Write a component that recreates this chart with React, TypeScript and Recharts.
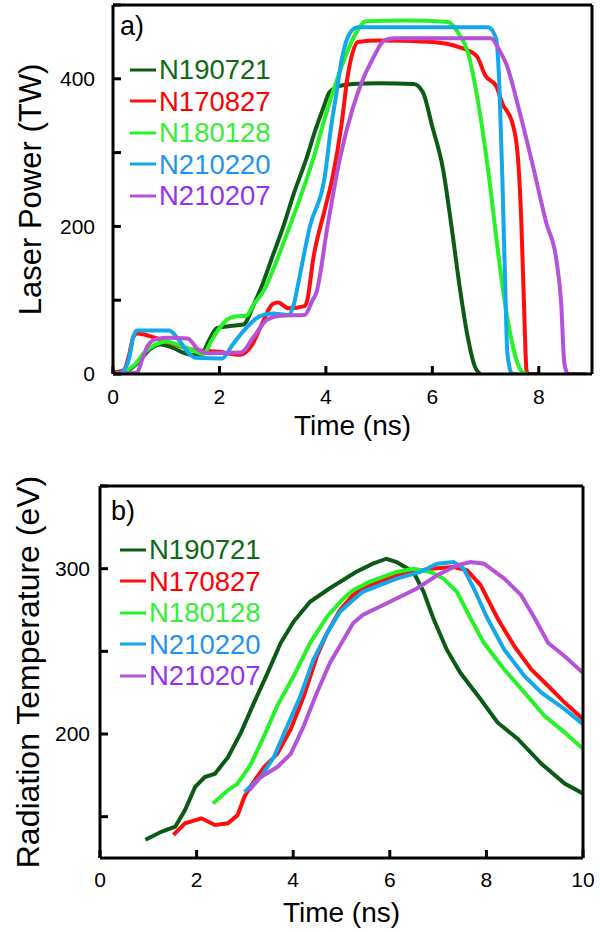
import { LineChart, Line, XAxis, YAxis, Legend } from "recharts";

const FONT = "'Liberation Sans', Arial, Helvetica, sans-serif";

// shot names, in legend order
const shots = ["N190721", "N170827", "N180128", "N210220", "N210207"];
const lineColors = ["#0c5b14", "#ff0d0d", "#27f227", "#12a8ea", "#b452d8"];
const textColors = ["#0e6a15", "#ff0000", "#36ee36", "#1f92f5", "#9630f5"];

// (a) laser power [time ns, power TW]
const laser190721 = [
  [0, 2], [0.3, 6], [0.5, 18], [0.7, 34], [0.9, 40], [1.1, 36], [1.4, 27], [1.65, 25],
  [1.8, 45], [1.95, 62], [2.2, 65], [2.45, 67], [2.65, 95], [2.8, 120], [3.0, 160],
  [3.2, 200], [3.4, 245], [3.63, 291], [3.8, 330], [3.95, 360], [4.07, 382], [4.25, 390],
  [4.5, 393], [5.0, 394], [5.65, 393], [5.82, 382], [6.0, 335], [6.2, 278], [6.36, 200],
  [6.51, 120], [6.66, 52], [6.8, 10], [6.9, 0],
];
const laser170827 = [
  [0, 2], [0.2, 5], [0.3, 25], [0.38, 50], [0.45, 55], [0.8, 49], [1.15, 40], [1.5, 33],
  [2.0, 30], [2.4, 26], [2.6, 38], [2.8, 68], [3.0, 95], [3.1, 97], [3.3, 89], [3.6, 92],
  [3.65, 100], [3.76, 155], [3.98, 223], [4.13, 268], [4.29, 336], [4.41, 404], [4.5, 435],
  [4.6, 450], [5.0, 452], [6.0, 450], [6.5, 443], [6.83, 431], [7.0, 404], [7.2, 390],
  [7.32, 366], [7.5, 341], [7.6, 300], [7.67, 210], [7.72, 100], [7.77, 5], [7.8, 0], [8.0, 0],
];
const laser180128 = [
  [0, 0], [0.2, 3], [0.4, 12], [0.6, 30], [0.8, 40], [1.0, 44], [1.2, 40], [1.5, 32],
  [1.7, 27], [1.85, 45], [2.0, 62], [2.15, 74], [2.3, 78], [2.5, 79], [2.65, 95],
  [2.85, 115], [3.0, 140], [3.32, 200], [3.76, 291], [4.03, 359], [4.35, 427], [4.55, 460],
  [4.76, 478], [5.5, 479], [6.3, 477], [6.45, 466], [6.7, 427], [6.89, 355], [7.07, 264],
  [7.2, 186], [7.32, 118], [7.45, 60], [7.58, 19], [7.7, 2], [7.8, 0],
];
const laser210220 = [
  [0, 0], [0.15, 2], [0.3, 20], [0.38, 50], [0.45, 59], [1.05, 59], [1.25, 45], [1.4, 30],
  [1.55, 22], [2.05, 21], [2.25, 40], [2.5, 62], [2.75, 78], [3.0, 82], [3.3, 80],
  [3.4, 95], [3.5, 130], [3.7, 200], [3.98, 268], [4.1, 336], [4.2, 381], [4.3, 427],
  [4.45, 462], [4.6, 470], [7.05, 470], [7.2, 454], [7.26, 390], [7.32, 254], [7.37, 118],
  [7.41, 28], [7.5, 0], [7.6, 0],
];
const laser210207 = [
  [0, 0], [0.45, 2], [0.55, 20], [0.65, 38], [0.8, 47], [1.0, 49], [1.4, 48], [1.6, 33],
  [1.8, 28], [2.4, 29], [2.65, 51], [2.9, 74], [3.15, 79], [3.6, 80], [3.75, 100],
  [3.82, 110], [4.03, 200], [4.26, 291], [4.5, 359], [4.7, 400], [4.88, 427], [5.1, 452],
  [5.3, 455], [7.1, 455], [7.25, 440], [7.39, 420], [7.64, 355], [7.89, 282], [8.14, 205],
  [8.33, 155], [8.42, 97], [8.48, 15], [8.55, 0], [8.9, 0],
];

// (b) radiation temperature [time ns, Tr eV]
const temp190721 = [
  [0.94, 136], [1.28, 141], [1.56, 144], [1.76, 154], [1.97, 168], [2.17, 174], [2.38, 176],
  [2.65, 186], [2.92, 201], [3.19, 219], [3.47, 237], [3.74, 255], [4.01, 268], [4.35, 280],
  [4.75, 288], [5.3, 298], [5.65, 303], [5.93, 306], [6.14, 304], [6.49, 298], [6.7, 286],
  [6.9, 270], [7.18, 251], [7.46, 237], [7.88, 221], [8.23, 207], [8.65, 197], [9.14, 182],
  [9.62, 170], [10, 164],
];
const temp170827 = [
  [1.52, 139], [1.76, 146], [2.1, 149], [2.38, 145], [2.65, 146], [2.85, 151], [2.99, 162],
  [3.13, 169], [3.4, 180], [3.67, 188], [3.95, 203], [4.22, 223], [4.49, 247], [4.7, 261],
  [4.97, 275], [5.24, 284], [5.44, 288], [6.14, 296], [6.84, 300], [7.32, 301], [7.6, 299],
  [7.88, 290], [8.23, 270], [8.58, 253], [8.93, 239], [9.28, 229], [9.62, 219], [10, 209],
];
const temp180128 = [
  [2.34, 158], [2.65, 166], [2.85, 170], [3.13, 182], [3.4, 199], [3.67, 217], [4.01, 235],
  [4.35, 255], [4.7, 271], [5.04, 282], [5.24, 287], [5.58, 292], [6.14, 298], [6.49, 300],
  [6.84, 298], [7.11, 294], [7.39, 286], [7.67, 270], [7.95, 255], [8.37, 239], [8.79, 225],
  [9.2, 211], [9.62, 201], [10, 191],
];
const temp210220 = [
  [2.99, 165], [3.33, 174], [3.6, 186], [3.88, 205], [4.15, 223], [4.42, 245], [4.7, 261],
  [4.97, 274], [5.24, 281], [5.44, 286], [6.14, 294], [6.63, 298], [6.98, 303], [7.32, 304],
  [7.53, 300], [7.74, 288], [8.02, 270], [8.37, 251], [8.79, 235], [9.14, 225], [9.62, 215],
  [10, 206],
];
const temp210207 = [
  [3.09, 166], [3.33, 174], [3.67, 180], [3.95, 188], [4.22, 205], [4.49, 225], [4.76, 243],
  [5.04, 257], [5.24, 267], [5.44, 272], [6.14, 282], [6.56, 288], [6.98, 296], [7.39, 302],
  [7.67, 304], [7.95, 303], [8.37, 294], [8.72, 284], [9.0, 270], [9.28, 255], [9.62, 247],
  [10, 237],
];

const laserTicksX = [0, 2, 4, 6, 8];
const laserTicksY = [0, 100, 200, 300, 400, 500];
const tempTicksX = [0, 2, 4, 6, 8, 10];
const tempTicksY = [150, 200, 250, 300, 350];

const toRows = (pts: number[][]) => pts.map(([t, v]) => ({ t, v }));

const laserSeries = [laser190721, laser170827, laser180128, laser210220, laser210207].map(toRows);
const tempSeries = [temp190721, temp170827, temp180128, temp210220, temp210207].map(toRows);

const frame = { stroke: "#000", strokeWidth: 3 };

function LegendBox({ payload }: any) {
  // keep the plot's own order, not the alphabetical one
  const items = [...(payload || [])].sort((a: any, b: any) => shots.indexOf(a.value) - shots.indexOf(b.value));
  return (
    <div style={{ fontFamily: FONT }}>
      {items.map((p: any) => {
        const i = shots.indexOf(p.value);
        return (
          <div key={p.value} style={{ display: "flex", alignItems: "center", height: 31.5 }}>
            <svg width={26} height={6} style={{ marginRight: 3 }}>
              <line x1={0} y1={3} x2={26} y2={3} stroke={lineColors[i]} strokeWidth={3} />
            </svg>
            <span style={{ fontSize: 27.5, color: textColors[i], lineHeight: "31px" }}>{p.value}</span>
          </div>
        );
      })}
    </div>
  );
}

export default function App() {
  return (
    <div style={{ position: "absolute", left: 0, top: 0, width: 600, height: 932, background: "#fff", fontFamily: FONT }}>
      <div style={{ position: "absolute", left: 0, top: 0 }}>
        <LineChart width={600} height={445} margin={{ top: 4, right: 7, bottom: 9, left: 8 }}>
          <XAxis
            type="number"
            dataKey="t"
            domain={[0, 9]}
            ticks={laserTicksX}
            allowDataOverflow
            height={62}
            axisLine={frame}
            tickLine={frame}
            tickSize={-8}
            tickMargin={23}
            tick={{ fill: "#000", fontSize: 21, fontFamily: FONT }}
            label={{ value: "Time (ns)", position: "insideBottom", offset: 1, fill: "#000", fontSize: 28, fontFamily: FONT }}
          />
          <XAxis xAxisId="top" orientation="top" type="number" domain={[0, 9]} ticks={laserTicksX} height={1}
            axisLine={frame} tickLine={frame} tickSize={-8} tick={false} />
          <YAxis
            type="number"
            domain={[0, 500]}
            ticks={laserTicksY}
            allowDataOverflow
            width={105}
            axisLine={frame}
            tickLine={frame}
            tickSize={-8}
            tickMargin={26}
            tickFormatter={(v: number) => (v % 200 === 0 && v < 500 ? String(v) : "")}
            tick={{ fill: "#000", fontSize: 21, fontFamily: FONT }}
            label={{ value: "Laser Power (TW)", angle: -90, position: "insideLeft", offset: 22, fill: "#000", fontSize: 31, fontFamily: FONT, style: { textAnchor: "middle" } }}
          />
          <YAxis yAxisId="right" orientation="right" type="number" domain={[0, 500]} ticks={laserTicksY} width={1}
            axisLine={frame} tickLine={frame} tickSize={-8} tick={false} />
          <Legend layout="vertical" align="center" verticalAlign="middle" wrapperStyle={{ left: 130, top: 54, width: 200 }} content={<LegendBox />} />
          {laserSeries.map((rows, i) => (
            <Line key={shots[i]} name={shots[i]} data={rows} dataKey="v" type="monotone" stroke={lineColors[i]}
              strokeWidth={4} dot={false} isAnimationActive={false} />
          ))}
        </LineChart>
        <div style={{ position: "absolute", left: 120, top: 11, fontSize: 27, color: "#000" }}>a)</div>
      </div>

      <div style={{ position: "absolute", left: 0, top: 445 }}>
        <LineChart width={600} height={487} margin={{ top: 40, right: 16, bottom: 8, left: 8 }}>
          <XAxis
            type="number"
            dataKey="t"
            domain={[0, 10]}
            ticks={tempTicksX}
            allowDataOverflow
            height={66}
            axisLine={frame}
            tickLine={frame}
            tickSize={-8}
            tickMargin={22}
            tick={{ fill: "#000", fontSize: 21, fontFamily: FONT }}
            label={{ value: "Time (ns)", position: "insideBottom", offset: 2, fill: "#000", fontSize: 28, fontFamily: FONT }}
          />
          <XAxis xAxisId="top" orientation="top" type="number" domain={[0, 10]} ticks={tempTicksX} height={1}
            axisLine={frame} tickLine={frame} tickSize={-8} tick={false} />
          <YAxis
            type="number"
            domain={[125, 350]}
            ticks={tempTicksY}
            allowDataOverflow
            width={92}
            axisLine={frame}
            tickLine={frame}
            tickSize={-8}
            tickMargin={18}
            tickFormatter={(v: number) => (v === 200 || v === 300 ? String(v) : "")}
            tick={{ fill: "#000", fontSize: 21, fontFamily: FONT }}
            label={{ value: "Radiation Temperature (eV)", angle: -90, position: "insideLeft", offset: 20, fill: "#000", fontSize: 32, fontFamily: FONT, style: { textAnchor: "middle" } }}
          />
          <YAxis yAxisId="right" orientation="right" type="number" domain={[125, 350]} ticks={tempTicksY} width={1}
            axisLine={frame} tickLine={frame} tickSize={-8} tick={false} />
          <Legend layout="vertical" align="center" verticalAlign="middle" wrapperStyle={{ left: 120, top: 89, width: 200 }} content={<LegendBox />} />
          {tempSeries.map((rows, i) => (
            <Line key={shots[i]} name={shots[i]} data={rows} dataKey="v" type="linear" stroke={lineColors[i]}
              strokeWidth={4} dot={false} isAnimationActive={false} />
          ))}
        </LineChart>
        <div style={{ position: "absolute", left: 111, top: 51, fontSize: 27, color: "#000" }}>b)</div>
      </div>
    </div>
  );
}
